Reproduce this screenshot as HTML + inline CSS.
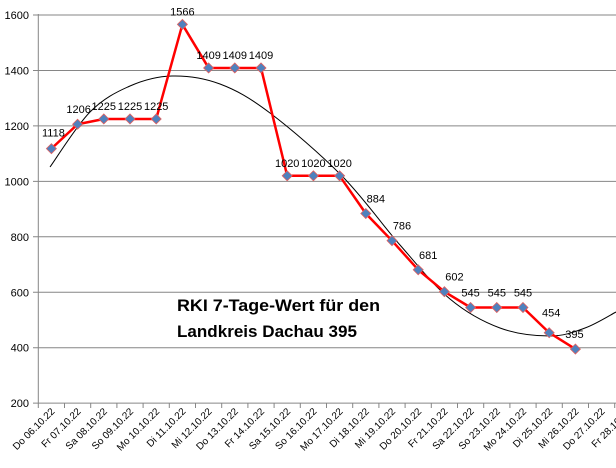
<!DOCTYPE html>
<html><head><meta charset="utf-8"><style>
html,body{margin:0;padding:0;background:#fff;}
svg{display:block;font-family:"Liberation Sans",Arial,sans-serif;}
</style></head><body>
<svg id="c" width="616" height="468" viewBox="0 0 616 468" xmlns="http://www.w3.org/2000/svg"></svg>
<script>
var s=document.getElementById('c'),h='';
function Y(v){return 15+(1600-v)*0.27725;}
var x0=38.3,dx=26.2;
for(var v=200;v<=1600;v+=200){var y=Y(v);
 h+='<line x1="33" y1="'+y+'" x2="616" y2="'+y+'" stroke="#868686" stroke-width="1"/>';
 h+='<text x="29" y="'+(y+4)+'" font-size="11" text-anchor="end" fill="#000">'+v+'</text>';}
h+='<line x1="38.3" y1="14" x2="38.3" y2="403" stroke="#868686"/>';
var labs=["Do 06.10.22","Fr 07.10.22","Sa 08.10.22","So 09.10.22","Mo 10.10.22","Di 11.10.22","Mi 12.10.22","Do 13.10.22","Fr 14.10.22","Sa 15.10.22","So 16.10.22","Mo 17.10.22","Di 18.10.22","Mi 19.10.22","Do 20.10.22","Fr 21.10.22","Sa 22.10.22","So 23.10.22","Mo 24.10.22","Di 25.10.22","Mi 26.10.22","Do 27.10.22","Fr 28.10.22"];
for(var i=0;i<=23;i++){var x=x0+dx*i;h+='<line x1="'+x+'" y1="403" x2="'+x+'" y2="408" stroke="#868686"/>';}
for(var i=0;i<labs.length;i++){var x=x0+dx*i+17,y=412;
 h+='<text x="'+x+'" y="'+y+'" font-size="10" text-anchor="end" transform="rotate(-45 '+x+' '+y+')">'+labs[i]+'</text>';}
var tp=[[50,167],[90,112],[130,86],[172,76],[220,84],[270,113],[342,176],[400,245],[450,299],[500,328],[550,336],[585,328],[616,312]];
var d='M'+tp[0][0]+','+tp[0][1];
for(var i=0;i<tp.length-1;i++){var p0=tp[Math.max(0,i-1)],p1=tp[i],p2=tp[i+1],p3=tp[Math.min(tp.length-1,i+2)];
 d+=' C'+(p1[0]+(p2[0]-p0[0])/6)+','+(p1[1]+(p2[1]-p0[1])/6)+' '+(p2[0]-(p3[0]-p1[0])/6)+','+(p2[1]-(p3[1]-p1[1])/6)+' '+p2[0]+','+p2[1];}
h+='<path d="'+d+'" fill="none" stroke="#000" stroke-width="1"/>';
var vals=[1118,1206,1225,1225,1225,1566,1409,1409,1409,1020,1020,1020,884,786,681,602,545,545,545,454,395];
var pts=vals.map(function(v,i){return [x0+dx/2+dx*i,Y(v)];});
h+='<polyline points="'+pts.map(function(p){return p.join(',')}).join(' ')+'" fill="none" stroke="#ff0000" stroke-width="2.5" stroke-linejoin="round"/>';
pts.forEach(function(p){h+='<polygon points="'+p[0]+','+(p[1]-5)+' '+(p[0]+5)+','+p[1]+' '+p[0]+','+(p[1]+5)+' '+(p[0]-5)+','+p[1]+'" fill="#4f81bd" stroke="#e06060" stroke-width="0.8"/>';});
pts.forEach(function(p,i){var lx=p[0],ly=p[1]-9;
 if(i==0){lx=p[0]+2;ly=p[1]-12;}
 if(i==1){lx=p[0]+1;ly=p[1]-11;}
 if(i>=12){lx=p[0]+10;ly=p[1]-11;}
 if(i>=16&&i<=18){lx=p[0];ly=p[1]-11;}
 if(i==19){lx=p[0]+2;ly=p[1]-16;}
 if(i==20){lx=p[0]-1;ly=p[1]-11;}
 h+='<text x="'+lx+'" y="'+ly+'" font-size="11" text-anchor="middle">'+vals[i]+'</text>';});
h+='<text x="177" y="311" font-size="17" font-weight="bold" textLength="203" lengthAdjust="spacingAndGlyphs">RKI 7-Tage-Wert für den</text>';
h+='<text x="177" y="337" font-size="17" font-weight="bold" textLength="180" lengthAdjust="spacingAndGlyphs">Landkreis Dachau 395</text>';
s.innerHTML=h;
</script>
</body></html>
